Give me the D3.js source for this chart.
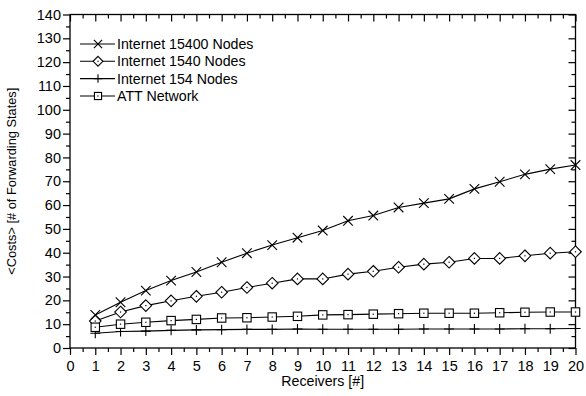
<!DOCTYPE html>
<html><head><meta charset="utf-8">
<script src="https://cdn.jsdelivr.net/npm/d3@7"></script>
<style>body{margin:0;background:#fff}svg{display:block}text{font-family:"Liberation Sans",Arial,sans-serif;fill:#000}</style>
</head><body><svg id="c" width="586" height="396"></svg>
<script>
const receivers = d3.range(1, 21);
const internet15400 = [13.9,19.2,24.1,28.3,31.9,36.0,39.8,43.2,46.3,49.3,53.4,55.6,59.0,60.8,62.6,66.8,69.8,72.9,75.1,76.8];
const internet1540 = [11.3,15.1,17.8,19.8,21.7,23.4,25.4,27.2,29.0,29.0,31.0,32.2,33.9,35.2,36.0,37.6,37.6,38.7,39.8,40.4];
const internet154 = [6.2,6.9,7.1,7.4,7.6,7.7,7.8,7.8,8.0,7.9,7.9,7.9,7.9,8.0,8.0,8.0,8.0,8.1,8.1,8.2];
const attNetwork = [8.7,10.0,10.8,11.5,12.0,12.6,12.7,13.0,13.3,13.9,14.0,14.2,14.4,14.6,14.6,14.6,14.8,15.0,15.1,15.1];
const seriesNames = ["Internet 15400 Nodes","Internet 1540 Nodes","Internet 154 Nodes","ATT Network"];
const seriesMarkers = ["x","diamond","plus","square"];
const xTicks = d3.range(0, 21);
const yTicks = d3.range(0, 141, 10);

const series = [internet15400, internet1540, internet154, attNetwork];
const svg = d3.select("#c");
const L = 70, R = 575.5, T = 14.5, B = 348;
const x = d3.scaleLinear().domain([0, 20]).range([L, R]);
const y = d3.scaleLinear().domain([0, 140]).range([B, T]);

const g = svg.append("g");
g.append("rect").attr("x", L).attr("y", T).attr("width", R - L).attr("height", B - T)
  .attr("fill", "none").attr("stroke", "#000").attr("stroke-width", 1.3);

const minorX = d3.range(0.5, 20, 1);
const minorY = d3.range(5, 140, 10);
const xa = g.append("g").attr("transform", `translate(0,${B})`)
  .call(d3.axisBottom(x).tickValues(xTicks).tickFormat(d3.format("d")).tickSize(7).tickPadding(6));
const xaMinor = g.append("g").attr("transform", `translate(0,${B})`)
  .call(d3.axisBottom(x).tickValues(minorX).tickFormat("").tickSize(4));
const ya = g.append("g").attr("transform", `translate(${L},0)`)
  .call(d3.axisLeft(y).tickValues(yTicks).tickFormat(d3.format("d")).tickSize(7).tickPadding(2));
const yaMinor = g.append("g").attr("transform", `translate(${L},0)`)
  .call(d3.axisLeft(y).tickValues(minorY).tickFormat("").tickSize(4));
const ta = g.append("g").attr("transform", `translate(0,${T})`)
  .call(d3.axisBottom(x).tickValues(xTicks).tickFormat("").tickSize(7));
const taMinor = g.append("g").attr("transform", `translate(0,${T})`)
  .call(d3.axisBottom(x).tickValues(minorX).tickFormat("").tickSize(4));
const ra = g.append("g").attr("transform", `translate(${R},0)`)
  .call(d3.axisLeft(y).tickValues(yTicks).tickFormat("").tickSize(7));
const raMinor = g.append("g").attr("transform", `translate(${R},0)`)
  .call(d3.axisLeft(y).tickValues(minorY).tickFormat("").tickSize(4));

[xa, xaMinor, ya, yaMinor, ta, taMinor, ra, raMinor].forEach(a => {
  a.select(".domain").remove();
  a.selectAll(".tick line").attr("stroke", "#000").attr("stroke-width", 1.2);
  a.selectAll("text").style("font-size", "14.5px").style("font-family", '"Liberation Sans",Arial,sans-serif').attr("fill", "#000");
});

svg.append("text").attr("x", (L + R) / 2).attr("y", 386).attr("text-anchor", "middle")
  .style("font-size", "14.2px").text("Receivers [#]");
svg.append("text").attr("transform", `translate(16,${(T + B) / 2}) rotate(-90)`).attr("text-anchor", "middle")
  .style("font-size", "12.8px").text("<Costs> [# of Forwarding States]");

function marker(sel, type, cx, cy, s) {
  if (type === "x") {
    const h = 4.8 * s;
    sel.append("path").attr("d", `M${cx-h},${cy-h}L${cx+h},${cy+h}M${cx-h},${cy+h}L${cx+h},${cy-h}`)
      .attr("stroke", "#000").attr("stroke-width", 1.1).attr("fill", "none");
  } else if (type === "plus") {
    const h = 5 * s;
    sel.append("path").attr("d", `M${cx-h},${cy}L${cx+h},${cy}M${cx},${cy-h}L${cx},${cy+h}`)
      .attr("stroke", "#000").attr("stroke-width", 1.1).attr("fill", "none");
  } else if (type === "diamond") {
    const h = 5.8 * s;
    sel.append("path").attr("d", `M${cx},${cy-h}L${cx+h},${cy}L${cx},${cy+h}L${cx-h},${cy}Z`)
      .attr("stroke", "#000").attr("stroke-width", 1.1).attr("fill", "#fff");
    sel.append("rect").attr("x", cx - 0.6).attr("y", cy - 0.6).attr("width", 1.2).attr("height", 1.2).attr("fill", "#000");
  } else if (type === "square") {
    const h = 4.2 * s;
    sel.append("rect").attr("x", cx - h).attr("y", cy - h).attr("width", 2 * h).attr("height", 2 * h)
      .attr("stroke", "#000").attr("stroke-width", 1.1).attr("fill", "#fff");
    sel.append("rect").attr("x", cx - 0.6).attr("y", cy - 0.6).attr("width", 1.2).attr("height", 1.2).attr("fill", "#000");
  }
}

const line = d3.line().x((d, i) => x(receivers[i])).y(d => y(d));
series.forEach((vals, si) => {
  const sg = svg.append("g");
  sg.append("path").attr("d", line(vals)).attr("fill", "none").attr("stroke", "#000").attr("stroke-width", 1.1);
  vals.forEach((v, i) => marker(sg, seriesMarkers[si], x(receivers[i]), y(v), 1));
});

const legY = [44, 61.3, 78.6, 96];
seriesNames.forEach((name, i) => {
  const lg = svg.append("g");
  lg.append("line").attr("x1", 80).attr("x2", 115).attr("y1", legY[i]).attr("y2", legY[i])
    .attr("stroke", "#000").attr("stroke-width", 1.1);
  marker(lg, seriesMarkers[i], 98, legY[i], 0.85);
  lg.append("text").attr("x", 117).attr("y", legY[i] + 5).style("font-size", "14.2px").text(name);
});
</script></body></html>
